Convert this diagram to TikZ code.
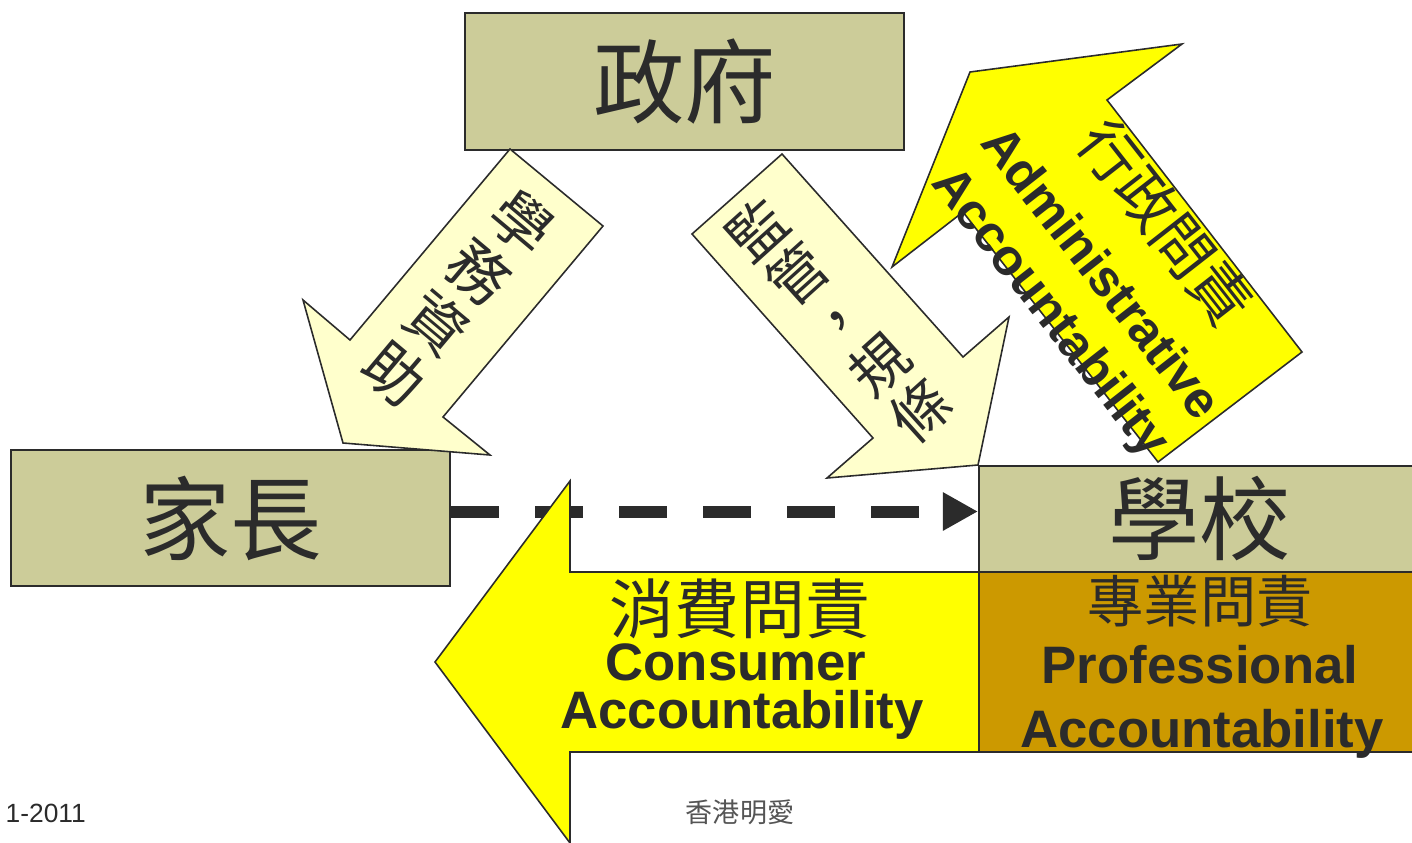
\documentclass[tikz,border=0pt]{standalone}
\usepackage{fontspec}
\setmainfont{Liberation Sans}
\newfontfamily\cjk{Noto Sans CJK TC}
\usetikzlibrary{arrows.meta}
\definecolor{ink}{HTML}{2B2B2B}
\definecolor{boxfill}{HTML}{CCCC99}
\definecolor{paleyellow}{HTML}{FFFFCC}
\definecolor{brightyellow}{HTML}{FFFF00}
\definecolor{profbrown}{HTML}{CC9900}
\begin{document}
\begin{tikzpicture}[
  titlebox/.style={draw=ink,line width=0.6pt,fill=boxfill,inner sep=0pt,text=ink,font=\cjk\fontsize{26}{30}\selectfont},
  blockarrow/.style={draw=ink,line width=0.45pt,line join=miter},
  engtext/.style={anchor=base,inner sep=0pt,text=ink,font=\bfseries\fontsize{15}{18}\selectfont},
  cjktext/.style={anchor=base,inner sep=0pt,text=ink,font=\cjk\fontsize{#1}{#1}\selectfont},
  stacktext/.style={align=center,inner sep=0pt,text=ink,font=\cjk\fontsize{17}{18.8}\selectfont},
  dashline/.style={draw=ink,line width=0.12cm,dash pattern=on 0.48cm off 0.36cm,-{Triangle[length=0.35cm,width=0.36cm]}}
]
  \useasboundingbox (0,0) rectangle (14.12,8.42);
  \node[titlebox,minimum width=4.39cm,minimum height=1.37cm] (gov) at (6.845,7.605) {政府};
  \node[titlebox,minimum width=4.39cm,minimum height=1.36cm] (parent) at (2.305,3.24) {家長};
  \node[titlebox,minimum width=4.41cm,minimum height=1.06cm] (school) at (11.995,3.23) {學校};
  \draw[dashline] ([yshift=0.065cm]parent.east) -- ([yshift=0.065cm]parent.east -| school.west);
  \draw[blockarrow,fill=paleyellow] (5.10,6.93) -- (6.03,6.16) -- (4.43,4.25) -- (4.90,3.87) -- (3.43,3.99) -- (3.03,5.42) -- (3.50,5.02) -- cycle;
  \node[stacktext,rotate=-40] (fundtext) at (4.58,5.44) {學\\務\\資\\助};
  \draw[blockarrow,fill=paleyellow] (7.82,6.88) -- (9.63,4.85) -- (10.09,5.25) -- (9.78,3.77) -- (8.27,3.64) -- (8.73,4.04) -- (6.92,6.08) -- cycle;
  \node[stacktext,font=\cjk\fontsize{16.5}{17.3}\selectfont,rotate=42] (ruletext) at (8.385,5.22) {監\\管\\，\\規\\條};
  \draw[blockarrow,fill=brightyellow] (9.70,7.70) -- (11.82,7.98) -- (11.07,7.42) -- (13.02,4.90) -- (11.58,3.80) -- (9.63,6.30) -- (8.92,5.75) -- cycle;
  \begin{scope}[shift={(10.88,5.59)},rotate=-52,transform shape]
    \node[cjktext=17] (admincn) at (0,0.76) {行政問責};
    \node[engtext,font=\bfseries\fontsize{14.5}{17}\selectfont] (adminen) at (0,0) {Administrative};
    \node[engtext,font=\bfseries\fontsize{14.5}{17}\selectfont] (adminacc) at (0,-0.63) {Accountability};
  \end{scope}
  \draw[blockarrow,fill=brightyellow] (9.79,2.70) -- (5.70,2.70) -- (5.70,3.61) -- (4.35,1.80) -- (5.70,-0.01) -- (5.70,0.90) -- (9.79,0.90) -- cycle;
  \node[cjktext=18.5] (consumercn) at (7.40,2.09) {消費問責};
  \node[engtext] (consumeren) at (7.36,1.62) {Consumer};
  \node[engtext] (consumeracc) at (7.42,1.14) {Accountability};
  \node[draw=ink,line width=0.6pt,fill=profbrown,minimum width=4.41cm,minimum height=1.80cm] (prof) at (11.995,1.80) {};
  \node[cjktext=16] (profcn) at (12.00,2.20) {專業問責};
  \node[engtext] (profen) at (12.00,1.59) {Professional};
  \node[engtext] (profacc) at (12.02,0.95) {Accountability};
  \node[anchor=base west,inner sep=0pt,text=ink,font=\fontsize{7.5}{9}\selectfont] (year) at (0.05,0.20) {1-2011};
  \node[cjktext=7.7,text=ink!80] (org) at (7.40,0.20) {香港明愛};
\end{tikzpicture}
\end{document}
